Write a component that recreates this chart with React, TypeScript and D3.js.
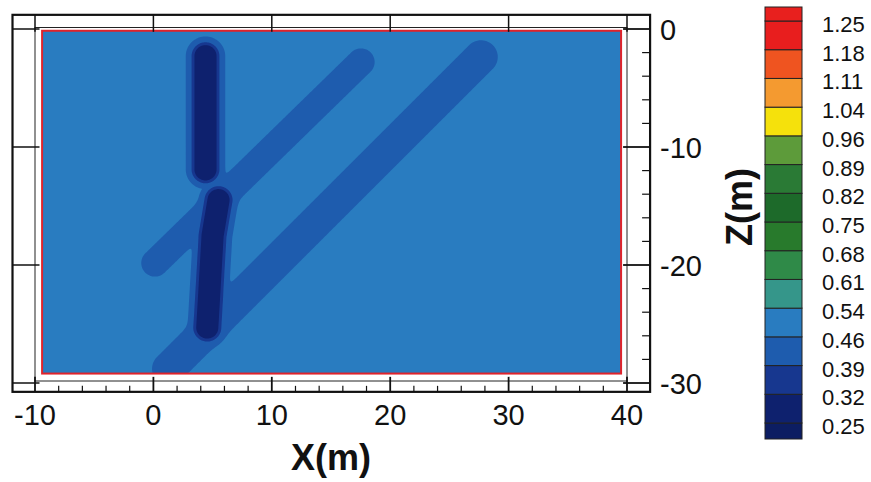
import React from 'react';
import * as d3 from 'd3';

// ---- data ----
const levels = [0.25, 0.32, 0.39, 0.46, 0.54, 0.61, 0.68, 0.75, 0.82, 0.89, 0.96, 1.04, 1.11, 1.18, 1.25];
const levelLabels = ['0.25', '0.32', '0.39', '0.46', '0.54', '0.61', '0.68', '0.75', '0.82', '0.89', '0.96', '1.04', '1.11', '1.18', '1.25'];
// band colours, from below the lowest level up to above the highest level
const bandColors = [
  '#0c1d62', '#0e216e', '#17378f', '#1e5cae', '#297cc0', '#35968a', '#2f8a48', '#287a2c',
  '#1d6a2a', '#2a7a35', '#5d9b3a', '#f5e10c', '#f49a30', '#ef5420', '#e81e1e', '#e8201e',
];
const xTicks = [-10, 0, 10, 20, 30, 40];
const xMinorTicks = [-8, -6, -4, -2, 2, 4, 6, 8, 12, 14, 16, 18, 22, 24, 26, 28, 32, 34, 36, 38];
const zTicks = [0, -10, -20, -30];
const zMinorTicks = [-2, -4, -6, -8, -12, -14, -16, -18, -22, -24, -26, -28];
const axisX = [-10, 40];
const axisZ = [-30, 0];
const frameX = [-11.9, 41.95];
const frameZ = [-30.75, 1.2];
const domainX = [-9.4, 39.5];
const domainZ = [-29.2, -0.15];
const baseValue = 0.5;
// low-value channels (segment ends in metres, half-width in metres)
const channelFrom = [[0.13, -19.83], [1.3, -28.8]];
const channelTo = [[17.53, -2.8], [27.67, -2.37]];
const channelWidth = [1.14, 1.4];
const barFrom = [[4.4, -2.3], [5.5, -14.5], [5.0, -17.5]];
const barTo = [[4.4, -11.9], [5.0, -17.5], [4.55, -25.3]];
const barHaloWidth = 1.65;
const barCoreWidth = 0.98;
const shallowDepth = 0.085;
const coreDepth = 0.16;

const W = 871;
const H = 482;
const FONT = 'Liberation Sans, Arial, Helvetica, sans-serif';

function segDist(px: number, pz: number, a: number[], b: number[]) {
  const dx = b[0] - a[0];
  const dz = b[1] - a[1];
  const L2 = dx * dx + dz * dz;
  let t = L2 > 0 ? ((px - a[0]) * dx + (pz - a[1]) * dz) / L2 : 0;
  t = Math.max(0, Math.min(1, t));
  const qx = a[0] + t * dx - px;
  const qz = a[1] + t * dz - pz;
  return Math.sqrt(qx * qx + qz * qz);
}

const sig = (t: number) => 1 / (1 + Math.exp(t / 0.12));

export default function App() {
  const x = d3.scaleLinear().domain([-10, 40]).range([35, 627]);
  const z = d3.scaleLinear().domain([0, -30]).range([29, 383]);

  const step = 0.08;
  const nx = Math.round((domainX[1] - domainX[0]) / step);
  const nz = Math.round((domainZ[1] - domainZ[0]) / step);
  const values = new Float64Array(nx * nz);
  for (let j = 0; j < nz; j++) {
    const pz = domainZ[1] - (j + 0.5) * step;
    for (let i = 0; i < nx; i++) {
      const px = domainX[0] + (i + 0.5) * step;
      let keep = 1;
      for (let k = 0; k < channelFrom.length; k++) {
        keep *= 1 - sig(segDist(px, pz, channelFrom[k], channelTo[k]) - channelWidth[k]);
      }
      let dMin = Infinity;
      for (let k = 0; k < barFrom.length; k++) {
        dMin = Math.min(dMin, segDist(px, pz, barFrom[k], barTo[k]));
      }
      keep *= 1 - sig(dMin - barHaloWidth);
      const core = sig(dMin - barCoreWidth);
      const f = baseValue - shallowDepth * (1 - keep) - coreDepth * core;
      values[j * nx + i] = -f;
    }
  }
  const lowLevels = levels.filter((l) => l < baseValue);
  const contours = d3.contours().size([nx, nz]).thresholds(lowLevels.map((l) => -l))(Array.from(values));
  const proj = d3.geoTransform({
    point(gx: number, gy: number) {
      (this as any).stream.point(x(domainX[0] + gx * step), z(domainZ[1] - gy * step));
    },
  });
  const path = d3.geoPath(proj);
  const baseBand = levels.findIndex((l) => l > baseValue);

  // colour bar
  const cbX0 = 765;
  const cbX1 = 802;
  const cb = d3.scaleLinear().domain([0, levels.length - 1]).range([423, 21]);

  const fx0 = x(frameX[0]);
  const fx1 = x(frameX[1]);
  const fz0 = z(frameZ[1]);
  const fz1 = z(frameZ[0]);

  return (
    <svg width={W} height={H} style={{ position: 'absolute', left: 0, top: 0, background: '#fff' }} fontFamily={FONT}>
      <defs>
        <clipPath id="dom">
          <rect x={x(domainX[0])} y={z(domainZ[1])} width={x(domainX[1]) - x(domainX[0])} height={z(domainZ[0]) - z(domainZ[1])} />
        </clipPath>
      </defs>
      {/* field */}
      <g clipPath="url(#dom)">
        <rect x={x(domainX[0])} y={z(domainZ[1])} width={x(domainX[1]) - x(domainX[0])} height={z(domainZ[0]) - z(domainZ[1])} fill={bandColors[baseBand]} />
        {contours.map((c, i) => {
          const lvl = -c.value;
          const idx = levels.indexOf(Math.round(lvl * 100) / 100);
          return <path key={i} d={path(c as any) || ''} fill={bandColors[idx]} stroke="none" />;
        })}
      </g>
      <rect x={x(domainX[0])} y={z(domainZ[1])} width={x(domainX[1]) - x(domainX[0])} height={z(domainZ[0]) - z(domainZ[1])} fill="none" stroke="#e0232b" strokeWidth={2} />
      {/* axis box */}
      <rect x={x(axisX[0])} y={z(axisZ[1]) - 1.5} width={x(axisX[1]) - x(axisX[0])} height={z(axisZ[0]) - z(axisZ[1]) - 0.5} fill="none" stroke="#222" strokeWidth={1} />
      {/* frame */}
      <rect x={fx0} y={fz0} width={fx1 - fx0} height={fz1 - fz0} fill="none" stroke="#111" strokeWidth={2.2} />
      {/* bottom ticks */}
      {xTicks.map((t) => (
        <line key={'bx' + t} x1={x(t)} x2={x(t)} y1={fz1} y2={fz1 - 15} stroke="#111" strokeWidth={1.8} />
      ))}
      {xMinorTicks.map((t) => (
        <line key={'bm' + t} x1={x(t)} x2={x(t)} y1={fz1} y2={fz1 - 6} stroke="#111" strokeWidth={1.2} />
      ))}
      {/* top ticks */}
      {xTicks.map((t) => (
        <line key={'tx' + t} x1={x(t)} x2={x(t)} y1={fz0} y2={fz0 + 17} stroke="#111" strokeWidth={1.5} />
      ))}
      {/* right ticks */}
      {zTicks.map((t) => (
        <line key={'rz' + t} x1={fx1} x2={fx1 - 27} y1={z(t)} y2={z(t)} stroke="#111" strokeWidth={1.8} />
      ))}
      {zMinorTicks.map((t) => (
        <line key={'rm' + t} x1={fx1} x2={fx1 - 8} y1={z(t)} y2={z(t)} stroke="#111" strokeWidth={1.2} />
      ))}
      {/* left ticks */}
      {zTicks.map((t) => (
        <line key={'lz' + t} x1={fx0} x2={fx0 + 27} y1={z(t)} y2={z(t)} stroke="#111" strokeWidth={1.5} />
      ))}
      {/* tick labels */}
      {xTicks.map((t) => (
        <text key={'xl' + t} x={x(t)} y={425} textAnchor="middle" fontSize={29} fill="#111">{t}</text>
      ))}
      {zTicks.map((t) => (
        <text key={'zl' + t} x={660} y={z(t) + 10.5} textAnchor="start" fontSize={29} fill="#111">{t}</text>
      ))}
      <text x={331} y={470} textAnchor="middle" fontSize={36} fontWeight="bold" fill="#111">X(m)</text>
      <text transform="translate(752,207) rotate(-90)" textAnchor="middle" fontSize={36} fontWeight="bold" fill="#111">Z(m)</text>
      {/* colour bar */}
      {bandColors.map((c, i) => {
        const yTop = i === bandColors.length - 1 ? 7 : cb(i);
        const yBot = i === 0 ? 439 : cb(i - 1);
        return <rect key={'cb' + i} x={cbX0} y={yTop} width={cbX1 - cbX0} height={yBot - yTop} fill={c} stroke="#222" strokeWidth={1} />;
      })}
      {levelLabels.map((l, i) => (
        <text key={'cl' + i} x={822} y={cb(i) + 11} fontSize={22} fill="#111">{l}</text>
      ))}
    </svg>
  );
}
